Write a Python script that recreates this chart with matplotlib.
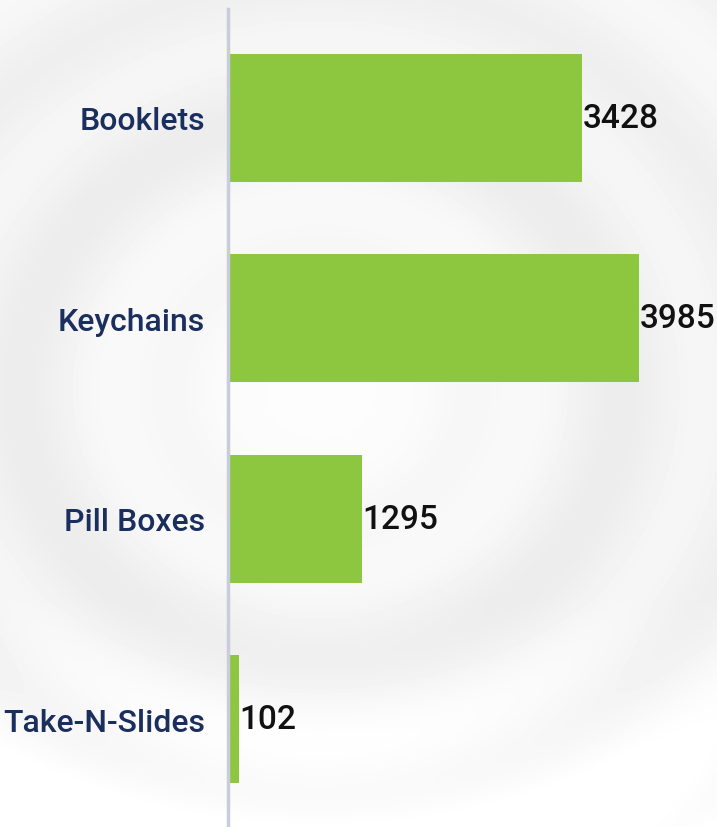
import numpy as np
import matplotlib.pyplot as plt

# data
categories = ['Booklets', 'Keychains', 'Pill Boxes', 'Take-N-Slides']
values = [3428, 3985, 1295, 102]

bar_color = '#8dc63f'
label_color = '#1b2f5e'

plt.rcParams['font.family'] = ['Roboto', 'DejaVu Sans']

fig = plt.figure(figsize=(7.17, 8.28), dpi=100)

# soft ripple background
bg = fig.add_axes([0, 0, 1, 1], zorder=-1)
yy, xx = np.mgrid[0:828, 0:717]
r = np.hypot(xx - 320, (yy - 390) * 1.1)
shade = 0.99 - 0.015 * (r / 500)
for rad, w, amp in [(150, 40, 0.02), (300, 60, 0.055), (450, 50, 0.04), (600, 40, 0.03)]:
    shade -= amp * np.exp(-((r - rad) / w) ** 2)
shade[yy > 600] += (yy[yy > 600] - 600) / 228 * 0.05
shade = np.clip(shade, 0, 1)
bg.imshow(shade, cmap='gray', vmin=0, vmax=1, aspect='auto')
bg.axis('off')

ax = fig.add_axes([228 / 717, 0, 1 - 228 / 717, 818 / 828])
ax.set_facecolor('none')
y = np.arange(len(categories))
ax.barh(y, values, height=0.638, color=bar_color, zorder=2)
ax.set_xlim(0, 4741)
ax.set_ylim(3.539, -0.544)

for yi, v in zip(y, values):
    ax.text(v + 10, yi, str(v), va='center', ha='left', fontsize=24,
            fontweight='medium', color='#111111')

ax.set_yticks(y)
ax.set_yticklabels(categories, fontsize=23, fontweight='medium', color=label_color)
ax.tick_params(axis='y', length=0, pad=16.5)
ax.set_xticks([])
for s in ['top', 'right', 'bottom']:
    ax.spines[s].set_visible(False)
ax.spines['left'].set_color('#c9ccd9')
ax.spines['left'].set_linewidth(2.5)

fig.savefig('out.png', dpi=100)
